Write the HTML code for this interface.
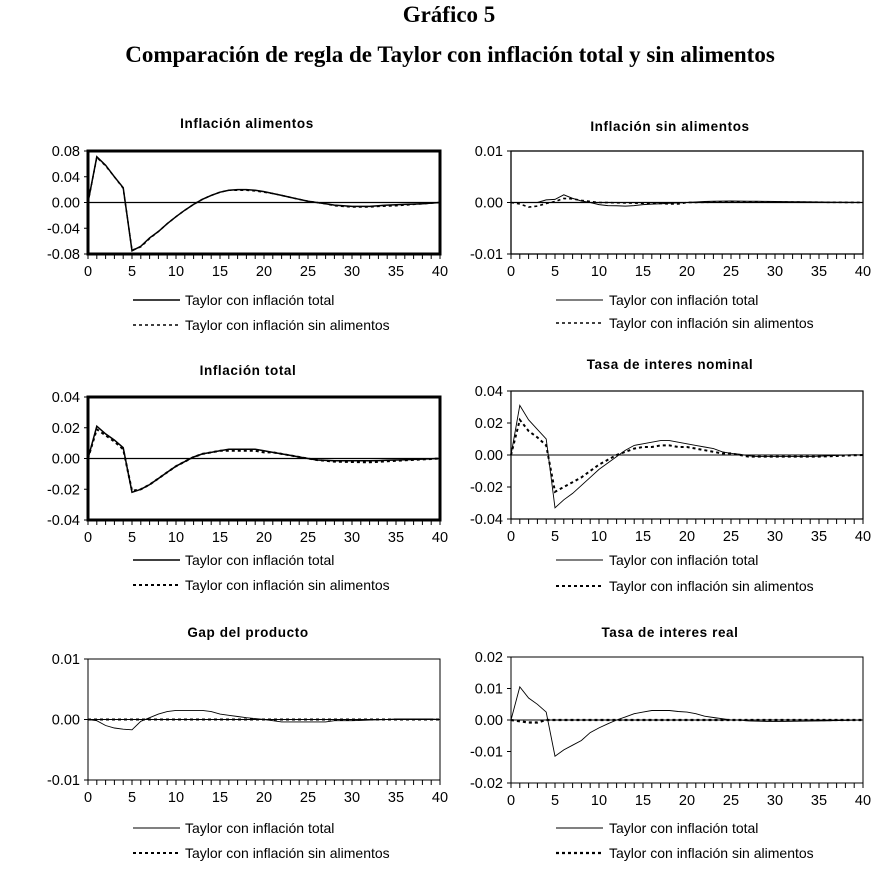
<!DOCTYPE html>
<html><head><meta charset="utf-8"><style>
body{margin:0;background:#fff;width:888px;height:871px;overflow:hidden}
svg{display:block}
text{font-family:"Liberation Sans",sans-serif;font-size:14px;fill:#000}
.t{font-weight:bold;font-size:13.5px;letter-spacing:0.6px}
.h{font-family:"Liberation Serif",serif;font-weight:bold;font-size:23px}
.yl{text-anchor:end;font-size:14.5px}
.xl{text-anchor:middle;font-size:14.5px}
</style></head><body>
<svg id="s" width="888" height="871" xmlns="http://www.w3.org/2000/svg">
<text class="h" x="449" y="22" text-anchor="middle">Gráfico 5</text>
<text class="h" x="450" y="62" text-anchor="middle">Comparación de regla de Taylor con inflación total y sin alimentos</text>

<text class="t" x="247" y="128" text-anchor="middle">Inflación alimentos</text>
<text class="t" x="670" y="131" text-anchor="middle">Inflación sin alimentos</text>
<text class="t" x="248" y="375" text-anchor="middle">Inflación total</text>
<text class="t" x="670" y="369" text-anchor="middle">Tasa de interes nominal</text>
<text class="t" x="248" y="637" text-anchor="middle">Gap del producto</text>
<text class="t" x="670" y="637" text-anchor="middle">Tasa de interes real</text>

<text x="185" y="305">Taylor con inflación total</text>
<text x="185" y="330">Taylor con inflación sin alimentos</text>
<text x="609" y="305">Taylor con inflación total</text>
<text x="609" y="328">Taylor con inflación sin alimentos</text>
<text x="185" y="565">Taylor con inflación total</text>
<text x="185" y="590">Taylor con inflación sin alimentos</text>
<text x="609" y="565">Taylor con inflación total</text>
<text x="609" y="591">Taylor con inflación sin alimentos</text>
<text x="185" y="833">Taylor con inflación total</text>
<text x="185" y="858">Taylor con inflación sin alimentos</text>
<text x="609" y="833">Taylor con inflación total</text>
<text x="609" y="858">Taylor con inflación sin alimentos</text>
</svg>
<script>
var NS="http://www.w3.org/2000/svg",S=document.getElementById("s");
function el(n,a){var e=document.createElementNS(NS,n);for(var k in a)e.setAttribute(k,a[k]);S.appendChild(e);return e;}
function txt(x,y,s,c){var e=el("text",{x:x,y:y,"class":c});e.textContent=s;}
function fill(pts){var a=[],k=0;for(var i=0;i<=40;i++){while(k<pts.length-1&&pts[k+1][0]<i)k++;var p=pts[k],q=pts[Math.min(k+1,pts.length-1)];if(i<=p[0])a.push(p[1]);else if(q[0]==p[0])a.push(p[1]);else a.push(p[1]+(q[1]-p[1])*(i-p[0])/(q[0]-p[0]));}return a;}
function chart(c){
 var x0=c.x0,x1=c.x0+352,y0=c.y0,y1=c.y1,max=c.max;
 function Y(v){return y0+(max-v)/(2*max)*(y1-y0);}
 function X(i){return x0+i*(x1-x0)/40;}
 el("rect",{x:x0,y:y0,width:x1-x0,height:y1-y0,fill:"none",stroke:"#000","stroke-width":c.fw});
 el("line",{x1:x0,x2:x1,y1:Y(0),y2:Y(0),stroke:"#000","stroke-width":c.zw||1.2});
 for(var i=0;i<=40;i++)el("line",{x1:X(i),x2:X(i),y1:y1,y2:y1+5,stroke:"#000","stroke-width":1});
 for(var i=0;i<=40;i+=5)txt(X(i),y1+22,""+i,"xl");
 for(var j=0;j<c.yt.length;j++){var v=c.yt[j];el("line",{x1:x0-4,x2:x0,y1:Y(v),y2:Y(v),stroke:"#000"});txt(x0-8,Y(v)+5,c.yf(v),"yl");}
 [[c.a,"",c.sw],[c.b,"3,3",c.dw]].forEach(function(s){var d=fill(s[0]),p="";for(var i=0;i<=40;i++)p+=(i?"L":"M")+X(i).toFixed(1)+","+Y(d[i]).toFixed(1);var o={d:p,fill:"none",stroke:"#000","stroke-width":s[2]};if(s[1])o["stroke-dasharray"]=s[1];el("path",o);});
 el("line",{x1:c.x0+45,x2:c.x0+92,y1:c.l1,y2:c.l1,stroke:"#000","stroke-width":c.sw});
 el("line",{x1:c.x0+45,x2:c.x0+92,y1:c.l2,y2:c.l2,stroke:"#000","stroke-width":c.dw,"stroke-dasharray":"3,3"});
}
function f2(v){return (v<0?"-":"")+Math.abs(v).toFixed(2);}
chart({x0:88,y0:151,y1:254,max:0.08,fw:3,yt:[0.08,0.04,0,-0.04,-0.08],yf:f2,sw:1.5,dw:1.5,l1:300,l2:325,
a:[[0,0],[1,.071],[2,.058],[3,.04],[4,.023],[5,-.075],[6,-.068],[7,-.055],[8,-.045],[9,-.033],[10,-.022],[11,-.012],[12,-.003],[13,.005],[14,.011],[15,.016],[16,.019],[17,.02],[18,.02],[19,.019],[20,.017],[21,.014],[22,.011],[23,.008],[24,.005],[25,.002],[26,0],[27,-.002],[28,-.004],[29,-.005],[30,-.006],[32,-.006],[33,-.005],[34,-.004],[36,-.003],[38,-.002],[40,0]],
b:[[0,0],[1,.07],[2,.057],[3,.04],[4,.022],[5,-.074],[6,-.069],[7,-.056],[8,-.045],[9,-.033],[10,-.022],[11,-.012],[12,-.003],[13,.005],[14,.011],[15,.016],[16,.019],[17,.019],[18,.019],[19,.018],[20,.016],[21,.014],[22,.011],[23,.008],[24,.005],[25,.002],[26,0],[27,-.002],[28,-.005],[29,-.006],[30,-.007],[32,-.007],[33,-.006],[35,-.005],[37,-.003],[40,0]]});
chart({x0:511,y0:151,y1:254,max:0.01,fw:1.3,yt:[0.01,0,-0.01],yf:f2,sw:1,dw:1.6,l1:300,l2:323,
a:[[0,0],[3,0],[4,.0005],[5,.0006],[6,.0015],[7,.0008],[8,.0003],[9,0],[10,-.0004],[11,-.0006],[13,-.0007],[14,-.0006],[15,-.0004],[20,0],[22,.0002],[25,.0003],[30,.0002],[35,.0001],[40,0]],
b:[[0,0],[1,-.0003],[2,-.0009],[3,-.0007],[4,-.0002],[5,.0002],[6,.0008],[7,.0007],[8,.0004],[9,.0002],[10,0],[17,-.0002],[18,-.0003],[19,-.0003],[20,0],[25,.0001],[30,.0001],[40,0]]});
chart({x0:88,y0:397,y1:520,max:0.04,fw:3,yt:[0.04,0.02,0,-0.02,-0.04],yf:f2,sw:1.5,dw:2,l1:560,l2:585,
a:[[0,0],[1,.021],[2,.016],[3,.012],[4,.007],[5,-.022],[6,-.02],[7,-.017],[8,-.013],[9,-.009],[10,-.005],[11,-.002],[12,.001],[13,.003],[14,.004],[15,.005],[16,.006],[19,.006],[20,.005],[21,.004],[22,.003],[23,.002],[24,.001],[25,0],[26,-.001],[28,-.0015],[32,-.0015],[35,-.001],[40,0]],
b:[[0,0],[1,.019],[2,.015],[3,.011],[4,.006],[5,-.021],[6,-.02],[7,-.017],[8,-.013],[9,-.009],[10,-.005],[11,-.002],[12,.001],[13,.003],[14,.004],[15,.005],[16,.005],[19,.005],[20,.004],[21,.004],[22,.003],[23,.002],[24,.001],[25,0],[26,-.001],[28,-.002],[32,-.0025],[35,-.0015],[40,0]]});
chart({x0:511,y0:391,y1:519,max:0.04,fw:1.2,zw:1,yt:[0.04,0.02,0,-0.02,-0.04],yf:f2,sw:0.9,dw:2,l1:560,l2:586,
a:[[0,0],[1,.031],[2,.022],[3,.016],[4,.01],[5,-.033],[6,-.028],[7,-.024],[8,-.019],[9,-.014],[10,-.009],[11,-.005],[12,-.001],[13,.003],[14,.006],[15,.007],[16,.008],[17,.009],[18,.009],[19,.008],[20,.007],[21,.006],[22,.005],[23,.004],[24,.002],[25,.001],[26,.0005],[27,-.0005],[28,-.001],[34,-.001],[36,-.0005],[38,0],[39,.0002],[40,0]],
b:[[0,0],[1,.022],[2,.015],[3,.011],[4,.006],[5,-.023],[6,-.02],[7,-.017],[8,-.014],[9,-.01],[10,-.006],[11,-.003],[12,0],[13,.002],[14,.004],[15,.005],[16,.005],[17,.006],[18,.006],[19,.005],[20,.005],[21,.004],[22,.003],[23,.002],[24,.001],[25,.001],[26,0],[27,-.001],[35,-.001],[40,0]]});
chart({x0:88,y0:659,y1:780,max:0.01,fw:1,zw:1,yt:[0.01,0,-0.01],yf:f2,sw:0.9,dw:2,l1:828,l2:853,
a:[[0,0],[1,-.0002],[2,-.001],[3,-.0014],[4,-.0016],[5,-.0017],[6,-.0003],[7,.0003],[8,.0009],[9,.0013],[10,.0015],[13,.0015],[14,.0013],[15,.0009],[18,.0003],[20,0],[22,-.0004],[27,-.0004],[28,-.0002],[30,-.0002],[32,-.0001],[34,0],[35,.0001],[39,.0001],[40,0]],
b:[[0,0],[40,0]]});
chart({x0:511,y0:657,y1:783,max:0.02,fw:1,zw:1,yt:[0.02,0.01,0,-0.01,-0.02],yf:f2,sw:0.9,dw:2.2,l1:828,l2:853,
a:[[0,0],[1,.0105],[2,.007],[3,.005],[4,.0025],[5,-.0115],[6,-.0095],[7,-.008],[8,-.0065],[9,-.004],[10,-.0025],[11,-.0012],[12,0],[13,.001],[14,.002],[15,.0025],[16,.003],[18,.003],[19,.0027],[20,.0025],[21,.002],[22,.0012],[23,.0008],[24,.0004],[25,0],[26,0],[27,-.0003],[30,-.0005],[35,-.0003],[40,0]],
b:[[0,0],[1,-.0004],[2,-.0008],[3,-.0008],[4,0],[40,0]]});
</script>
</body></html>
